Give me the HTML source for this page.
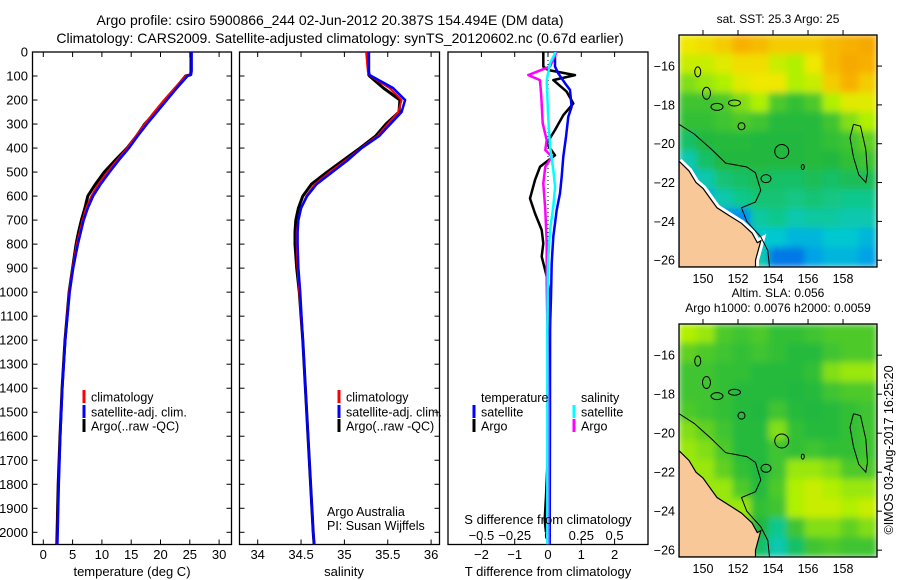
<!DOCTYPE html>
<html><head><meta charset="utf-8"><style>
html,body{margin:0;padding:0;background:#fff;}
svg{display:block;font-family:"Liberation Sans",sans-serif;}
</style></head><body>
<svg id="fig" width="900" height="580" viewBox="0 0 900 580" xmlns="http://www.w3.org/2000/svg">
<defs>
<filter id="blur" x="-5%" y="-5%" width="110%" height="110%"><feGaussianBlur stdDeviation="3.5" edgeMode="duplicate"/></filter>
<clipPath id="clip1"><rect x="679" y="35" width="198" height="232"/></clipPath>
<clipPath id="clip2"><rect x="679" y="324" width="198" height="233"/></clipPath>
</defs>
<text x="330" y="25" font-size="14" text-anchor="middle">Argo profile: csiro 5900866_244 02-Jun-2012 20.387S 154.494E (DM data)</text>
<text x="340" y="43" font-size="14" text-anchor="middle">Climatology: CARS2009. Satellite-adjusted climatology: synTS_20120602.nc (0.67d earlier)</text>
<g id="g1"></g>
<g id="g2"></g>
<g id="g3"></g>
<g id="m1"></g>
<g id="m2"></g>
<text transform="translate(893,450) rotate(-90)" font-size="12.5" text-anchor="middle">©IMOS 03-Aug-2017 16:25:20</text>
</svg>
<script>
// ---- profile data ----
const tDepth = [0,80,95,100,150,200,250,300,350,400,450,500,550,600,650,700,750,800,900,1000,1200,1400,1600,1800,2000,2050];
const tClim = [25.3,25.3,25.0,24.3,22.4,20.6,18.9,17.3,15.8,14.3,12.6,10.9,9.4,8.2,7.3,6.7,6.2,5.7,5.0,4.4,3.7,3.2,2.85,2.6,2.4,2.35];
const tSat  = [25.3,25.3,25.2,24.6,22.8,21.1,19.4,17.7,16.1,14.6,12.9,11.3,9.8,8.5,7.6,6.9,6.4,5.9,5.1,4.5,3.75,3.25,2.9,2.65,2.45,2.4];
const tArgo = [25.2,25.2,25.1,24.3,22.6,21.0,19.2,17.3,15.9,14.3,12.3,10.4,8.9,7.6,7.1,6.5,6.0,5.6,5.0,4.4,3.7,3.2,2.85,2.55,2.35,2.3];
const sClim = [35.25,35.27,35.28,35.30,35.52,35.66,35.62,35.50,35.38,35.19,35.02,34.83,34.66,34.56,34.50,34.47,34.45,34.45,34.46,34.48,34.52,34.55,34.58,34.61,34.64,34.65];
const sSat  = [35.28,35.28,35.29,35.31,35.56,35.70,35.66,35.53,35.40,35.20,35.04,34.86,34.68,34.57,34.50,34.47,34.46,34.46,34.47,34.49,34.52,34.55,34.58,34.61,34.64,34.65];
const sArgo = [35.28,35.28,35.28,35.29,35.45,35.64,35.63,35.48,35.36,35.18,34.99,34.80,34.62,34.52,34.47,34.44,34.43,34.43,34.45,34.48,34.52,34.55,34.58,34.61,34.64,34.65];
const dtSatDepth = [0,5,61,89,130,158,228,270,353,436,519,589,658,714,769,880,1019,1158,1500,2050];
const dtSat = [0.21,0.21,0.21,0.31,0.51,0.66,0.71,0.61,0.54,0.46,0.41,0.36,0.26,0.21,0.16,0.11,0.09,0.06,0.06,0.05];
const dtArgoDepth = [0,5,61,75,96,117,165,214,263,325,381,430,478,533,610,672,741,797,852,935,1019,1500,1850,1950,2000];
const dtArgo = [-0.14,-0.14,-0.14,0.0,0.81,0.16,0.56,0.76,0.46,0.21,-0.04,0.21,-0.24,-0.39,-0.54,-0.39,-0.19,-0.14,-0.19,-0.04,0.06,0.05,-0.06,-0.1,-0.06];
const dsSatDepth = [0,5,47,117,256,394,491,561,644,741,880,1158,2050];
const dsSat = [0.053,0.053,0.015,-0.01,0.0,0.015,0.04,0.053,0.04,0.015,0.0,-0.005,-0.005];
const dsArgoDepth = [0,5,61,96,117,186,297,367,408,436,478,547,658,797,963,1500,2050];
const dsArgo = [0.06,0.06,0.015,-0.148,-0.06,-0.05,-0.04,-0.01,-0.02,0.03,-0.02,-0.035,-0.02,-0.01,-0.01,0.005,0.005];
const depthTicks = [0,100,200,300,400,500,600,700,800,900,1000,1100,1200,1300,1400,1500,1600,1700,1800,1900,2000];
const tTicks = [0,5,10,15,20,25,30];
const sTicks = [34,34.5,35,35.5,36];
const dTTicks = [-2,-1,0,1,2];
const dSTicks = [-0.5,-0.25,0,0.25,0.5];
const lonTicks = [150,152,154,156,158];
const latTicks = [-16,-18,-20,-22,-24,-26];
// ---- map grids (12 lat rows x 11 lon cols) ----
const sstGrid = [
[0.8,0.82,0.85,0.9,0.88,0.85,0.85,0.85,0.88,0.9,0.92],
[0.75,0.75,0.78,0.82,0.82,0.75,0.72,0.8,0.88,0.92,0.9],
[0.68,0.7,0.72,0.78,0.8,0.8,0.72,0.75,0.85,0.9,0.85],
[0.6,0.6,0.62,0.68,0.72,0.62,0.58,0.62,0.72,0.78,0.78],
[0.58,0.58,0.6,0.62,0.6,0.56,0.56,0.56,0.6,0.68,0.72],
[0.5,0.55,0.56,0.56,0.55,0.55,0.55,0.56,0.58,0.6,0.65],
[0.4,0.5,0.55,0.55,0.55,0.55,0.55,0.56,0.55,0.58,0.6],
[0.3,0.4,0.48,0.5,0.52,0.5,0.5,0.52,0.5,0.52,0.52],
[0.3,0.3,0.4,0.45,0.48,0.48,0.46,0.48,0.46,0.45,0.45],
[0.2,0.2,0.2,0.2,0.42,0.45,0.4,0.42,0.42,0.4,0.4],
[0.2,0.2,0.2,0.15,0.35,0.35,0.3,0.3,0.35,0.35,0.3],
[0.3,0.3,0.3,0.35,0.4,0.15,0.15,0.25,0.3,0.3,0.25]];
const slaGrid = [
[0.72,0.7,0.62,0.6,0.62,0.58,0.58,0.6,0.62,0.62,0.62],
[0.65,0.62,0.6,0.58,0.6,0.58,0.56,0.56,0.6,0.62,0.62],
[0.6,0.6,0.58,0.58,0.56,0.56,0.56,0.58,0.68,0.7,0.7],
[0.6,0.6,0.58,0.56,0.56,0.56,0.55,0.56,0.6,0.62,0.62],
[0.62,0.6,0.58,0.56,0.55,0.6,0.56,0.55,0.56,0.58,0.6],
[0.68,0.65,0.6,0.56,0.56,0.68,0.58,0.56,0.56,0.58,0.6],
[0.7,0.68,0.62,0.56,0.56,0.6,0.58,0.6,0.58,0.58,0.6],
[0.7,0.7,0.65,0.58,0.55,0.6,0.7,0.7,0.68,0.62,0.62],
[0.7,0.7,0.7,0.62,0.56,0.62,0.72,0.75,0.72,0.7,0.7],
[0.7,0.7,0.7,0.7,0.58,0.6,0.72,0.75,0.75,0.72,0.75],
[0.7,0.7,0.7,0.7,0.55,0.45,0.6,0.68,0.68,0.65,0.68],
[0.7,0.7,0.7,0.7,0.5,0.4,0.5,0.6,0.62,0.6,0.6]];

const NS='http://www.w3.org/2000/svg';
function mk(parent,tag,attrs,txt){const e=document.createElementNS(NS,tag);for(const k in attrs)e.setAttribute(k,attrs[k]);if(txt!==undefined)e.textContent=txt;parent.appendChild(e);return e;}
const yD = d => 52 + d*0.24015;
const Y0=52, Y1=544.5;

function frame(g,x0,x1){
  const r=mk(g,'rect',{x:x0,y:Y0,width:x1-x0,height:Y1-Y0,fill:'none',stroke:'#000','stroke-width':1.3});
  
  
}
function depthTicksDraw(g,x0,x1,labels){
  depthTicks.forEach(d=>{
    const y=yD(d);
    mk(g,'line',{x1:x0,y1:y,x2:x0+5,y2:y,stroke:'#000'});
    mk(g,'line',{x1:x1,y1:y,x2:x1-5,y2:y,stroke:'#000'});
    if(labels){const t=mk(g,'text',{x:28,y:y+4.5,'font-size':13,'text-anchor':'end'},String(d));
      
      }
  });
}
function xTicks(g,ticks,fx,ly){
  ticks.forEach(v=>{const x=fx(v);
    mk(g,'line',{x1:x,y1:Y0,x2:x,y2:Y0+5,stroke:'#000'});
    mk(g,'line',{x1:x,y1:Y1,x2:x,y2:Y1-5,stroke:'#000'});
    const t=mk(g,'text',{x:x,y:ly,'font-size':13,'text-anchor':'middle'},String(v));
    
    
  });
}
function line(g,xs,ds,fx,color,w,name){
  const pts=xs.map((v,i)=>fx(v).toFixed(1)+','+yD(ds[i]).toFixed(1)).join(' ');
  const p=mk(g,'polyline',{points:pts,fill:'none',stroke:color,'stroke-width':w,'stroke-linejoin':'round'});
  
  
}
function legend(g,x,y,color,label){
  const r=mk(g,'rect',{x:x-1.5,y:y-7,width:3,height:13,fill:color});
  
  
  const t=mk(g,'text',{x:x+7,y:y+4.5,'font-size':12.5},label);
  
  
}
// Panel 1
const g1=document.getElementById('g1');
const xT=T=>43.3+T*5.86;
frame(g1,32.5,231.5); depthTicksDraw(g1,32.5,231.5,true); xTicks(g1,tTicks,xT,559);
line(g1,tArgo,tDepth,xT,'#000',3,'argo-temperature-line');
line(g1,tClim,tDepth,xT,'#f00',2,'climatology-temperature-line');
line(g1,tSat,tDepth,xT,'#00f',2.5,'satellite-temperature-line');
legend(g1,84,397,'#f00','climatology');legend(g1,84,412,'#00f','satellite-adj. clim.');legend(g1,84,426,'#000','Argo(..raw -QC)');
{const t=mk(g1,'text',{x:132,y:576,'font-size':13,'text-anchor':'middle'},'temperature (deg C)');}
// Panel 2
const g2=document.getElementById('g2');
const xS=S=>257.7+(S-34)*86.7;
frame(g2,239.5,439.5); depthTicksDraw(g2,239.5,439.5,false); xTicks(g2,sTicks,xS,559);
line(g2,sArgo,tDepth,xS,'#000',3,'argo-salinity-line');
line(g2,sClim,tDepth,xS,'#f00',2,'climatology-salinity-line');
line(g2,sSat,tDepth,xS,'#00f',2.5,'satellite-salinity-line');
legend(g2,339,397,'#f00','climatology');legend(g2,339,412,'#00f','satellite-adj. clim.');legend(g2,339,426,'#000','Argo(..raw -QC)');
{const t=mk(g2,'text',{x:344,y:576,'font-size':13,'text-anchor':'middle'},'salinity');}
{const t=mk(g2,'text',{x:327,y:516,'font-size':12.5},'Argo Australia');}
{const t=mk(g2,'text',{x:327,y:530,'font-size':12.5},'PI: Susan Wijffels');}
// Panel 3
const g3=document.getElementById('g3');
const xDT=v=>548+v*33.3, xDS=v=>548+v*133.2;
frame(g3,448,648);
dTTicks.forEach(v=>{const x=xDT(v);mk(g3,'line',{x1:x,y1:Y0,x2:x,y2:Y0+5,stroke:'#000'});mk(g3,'line',{x1:x,y1:Y1,x2:x,y2:Y1-5,stroke:'#000'});
  const t=mk(g3,'text',{x:x,y:559,'font-size':13,'text-anchor':'middle'},String(v).replace('-','\u2212'));});
dSTicks.forEach(v=>{const t=mk(g3,'text',{x:xDS(v),y:540,'font-size':13,'text-anchor':'middle'},String(v).replace('-','\u2212'));});
mk(g3,'line',{x1:548,y1:Y0,x2:548,y2:Y1,stroke:'#000','stroke-dasharray':'1,3'});
line(g3,dtArgo,dtArgoDepth,xDT,'#000',2.5,'argo-t-diff-line');
line(g3,dtSat,dtSatDepth,xDT,'#00f',2.5,'satellite-t-diff-line');
line(g3,dsArgo,dsArgoDepth,xDS,'#f0f',2.5,'argo-s-diff-line');
line(g3,dsSat,dsSatDepth,xDS,'#0ff',2.5,'satellite-s-diff-line');
{const t=mk(g3,'text',{x:481,y:402,'font-size':12.5},'temperature');}
{const t=mk(g3,'text',{x:581,y:402,'font-size':12.5},'salinity');}
legend(g3,474,412,'#00f','satellite');legend(g3,474,426,'#000','Argo');legend(g3,574,412,'#0ff','satellite');legend(g3,574,426,'#f0f','Argo');
{const t=mk(g3,'text',{x:548,y:524,'font-size':13,'text-anchor':'middle'},'S difference from climatology');}
{const t=mk(g3,'text',{x:548,y:576,'font-size':13,'text-anchor':'middle'},'T difference from climatology');}

// ---- maps ----
const cstops=[[0,[0,48,200]],[0.2,[0,144,240]],[0.35,[0,200,208]],[0.45,[16,200,140]],[0.55,[32,184,64]],[0.65,[96,208,32]],[0.72,[176,240,0]],[0.8,[240,232,0]],[0.9,[248,176,0]],[1,[240,140,0]]];
function cmap(v){for(let i=1;i<cstops.length;i++){if(v<=cstops[i][0]){const a=cstops[i-1],b=cstops[i],f=(v-a[0])/(b[0]-a[0]);return 'rgb('+a[1].map((c,k)=>Math.round(c+(b[1][k]-c)*f)).join(',')+')';}}return 'rgb(240,140,0)';}
const LON0=148.63,LON1=159.94,LAT0=-14.4,LAT1=-26.35;
const land=[[148.63,-20.9],[149.2,-21.4],[149.6,-22.0],[150.0,-22.3],[150.4,-22.8],[150.8,-23.3],[151.5,-23.7],[152.2,-24.1],[152.8,-24.6],[153.1,-25.1],[153.3,-25.0],[153.0,-26.0],[153.0,-26.35],[148.63,-26.35]];
const isobath=[[148.63,-19],[149.5,-19.5],[150.5,-20.3],[151.3,-21],[152.5,-21.2],[153,-21.5],[153.3,-22.4],[153,-23],[152.2,-23.3],[152.5,-24],[153.3,-24.8],[153.7,-25.5],[153.8,-26.35]];
const reef=[[158.6,-19],[159,-19.1],[159.3,-20.3],[159.4,-21.5],[159.3,-22],[158.9,-21.6],[158.6,-20.7],[158.4,-19.7],[158.6,-19]];
const islands=[[154.5,-20.4,7,7],[152.2,-19.1,3.5,3.5],[153.6,-21.8,5,4],[155.7,-21.2,1.5,2.5],[149.7,-16.3,3,5],[150.2,-17.4,4,6],[150.8,-18.1,6,3.5],[151.8,-17.9,6,3]];
function drawMap(gid,clip,x0,y0,w,h,grid,white,t1,t2){
  const g=document.getElementById(gid);
  const lx=l=>x0+(l-LON0)/(LON1-LON0)*w, ly=la=>y0+(LAT0-la)/(LAT0-LAT1)*h;
  const cg=mk(g,'g',{'clip-path':'url(#'+clip+')'});
  const bg=mk(cg,'g',{filter:'url(#blur)'});
  const cw=w/11,ch=h/12;
  grid.forEach((row,r)=>row.forEach((v,c)=>{const e=mk(bg,'rect',{x:x0+c*cw-0.5,y:y0+r*ch-0.5,width:cw+1,height:ch+1,fill:cmap(v)});
    }));
  const pts=a=>a.map(p=>lx(p[0]).toFixed(1)+','+ly(p[1]).toFixed(1)).join(' ');
  if(white) mk(cg,'polyline',{points:pts(land.slice(0,13)),fill:'none',stroke:'#fff','stroke-width':7});
  const L=mk(cg,'polygon',{points:pts(land),fill:'#f8c898',stroke:'#000','stroke-width':1.2});
  
  mk(cg,'polyline',{points:pts(isobath),fill:'none',stroke:'#000','stroke-width':1});
  mk(cg,'polyline',{points:pts(reef),fill:'none',stroke:'#000','stroke-width':1});
  islands.forEach(s=>mk(cg,'ellipse',{cx:lx(s[0]),cy:ly(s[1]),rx:s[2],ry:s[3],fill:'none',stroke:'#000','stroke-width':1}));
  const f=mk(g,'rect',{x:x0,y:y0,width:w,height:h,fill:'none',stroke:'#000','stroke-width':1.3});
  
  lonTicks.forEach(l=>{const x=lx(l);mk(g,'line',{x1:x,y1:y0,x2:x,y2:y0-5,stroke:'#000'});
    const t=mk(g,'text',{x:x,y:y0+h+16,'font-size':12.5,'text-anchor':'middle'},String(l));});
  latTicks.forEach(la=>{const y=ly(la);mk(g,'line',{x1:x0+w,y1:y,x2:x0+w+5,y2:y,stroke:'#000'});
    const t=mk(g,'text',{x:x0-4,y:y+4.5,'font-size':12.5,'text-anchor':'end'},String(la).replace('-','\u2212'));});
  const a=mk(g,'text',{x:x0+w/2,y:t2?y0-27:y0-12,'font-size':12,'text-anchor':'middle'},t1);
  if(t2){const b=mk(g,'text',{x:x0+w/2,y:y0-12,'font-size':12,'text-anchor':'middle'},t2);}
}
drawMap('m1','clip1',679,35,198,232,sstGrid,true,'sat. SST: 25.3 Argo: 25');
drawMap('m2','clip2',679,324,198,233,slaGrid,false,'Altim. SLA: 0.056','Argo h1000: 0.0076 h2000: 0.0059');
</script>
</body></html>
